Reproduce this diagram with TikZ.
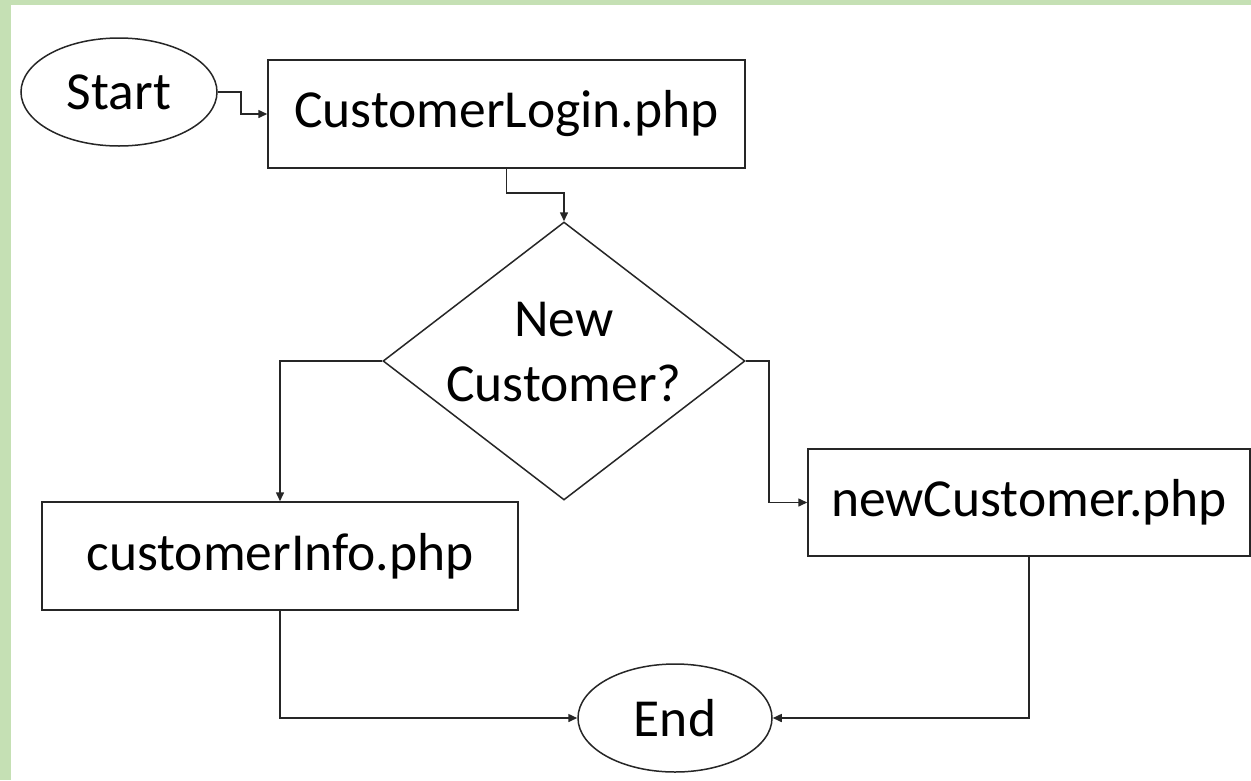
\documentclass[tikz,border=0pt]{standalone}
\usepackage{fontspec}
\setmainfont{Carlito}
\usetikzlibrary{shapes.geometric,arrows.meta}
\definecolor{framegreen}{HTML}{C5E0B4}
\begin{document}
\begin{tikzpicture}[x=1pt,y=-1pt,
  base/.style={draw=black!85,line width=1.5pt,inner sep=0pt,font=\fontsize{53.5}{64}\selectfont},
  term/.style={base,ellipse,minimum width=196pt,minimum height=108pt},
  proc/.style={base,rectangle,minimum height=108pt},
  dec/.style={base,diamond,minimum width=362pt,minimum height=278pt},
  lbl/.style={inner sep=0pt,align=center,font=\fontsize{53.5}{65}\selectfont},
  arr/.style={draw=black!85,line width=1.5pt,-{Triangle[length=9pt,width=8pt]}}]
\useasboundingbox (0,0) rectangle (1251,780);
\fill[framegreen] (0,0) rectangle (1251,780);
\fill[white] (11,5) rectangle (1251,780);
\node[term] (start) at (119,92) {Start};
\node[proc,minimum width=477pt] (login) at (506.5,114) {CustomerLogin.php};
\node[dec] (dia) at (564,361) {};
\node[lbl] (diatext) at (564,352) {New\\Customer?};
\node[proc,minimum width=476pt] (info) at (280,556) {customerInfo.php};
\node[proc,minimum width=442pt,minimum height=107pt] (newc) at (1029,502.5) {newCustomer.php};
\node[term,minimum width=194pt] (end) at (675,718) {End};
\draw[arr] (start.east) -- ++(23,0) |- (login.west);
\draw[arr] (login.south) -- ++(0,24) -| (dia.north);
\draw[arr] (dia.west) -| (info.north);
\draw[arr] (dia.east) -- ++(23,0) |- (newc.west);
\draw[arr] (info.south) |- (end.west);
\draw[arr] (newc.south) |- (end.east);
\end{tikzpicture}
\end{document}
